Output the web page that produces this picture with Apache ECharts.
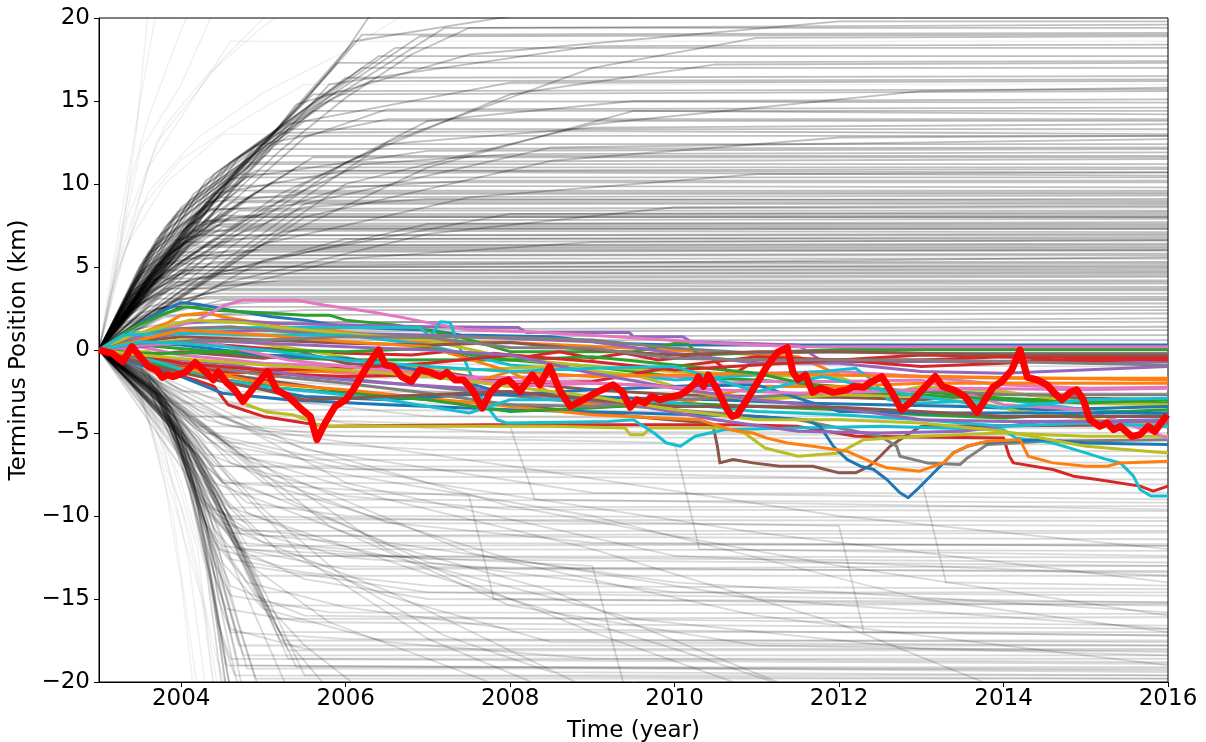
<!DOCTYPE html>
<html>
<head>
<meta charset="utf-8">
<script src="https://cdn.jsdelivr.net/npm/echarts@6/dist/echarts.min.js"></script>
<style>
  html, body { margin: 0; padding: 0; background: #fff; }
  #chart { width: 1206px; height: 742px; }
</style>
</head>
<body>
<div id="chart"></div>
<script>
// Terminus position ensemble, 2003-2016.
// Each run is a flat list of (year, km) pairs: [t0, v0, t1, v1, ...].

// Ensemble members that advance (upper fan)
const advanceRuns = [
  [2003,0, 2003.3,2.2, 2003.6,4.4, 2004.0,7.0, 2004.5,10.0, 2005.0,12.5, 2005.5,15.0, 2006.0,18.0, 2006.3,20.2],
  [2003,0, 2003.35,2.4, 2003.75,5.2, 2004.2,8.1, 2004.7,11.0, 2005.3,14.0, 2005.9,17.3, 2016,17.4],
  [2003,0, 2003.3,2.0, 2003.8,5.4, 2004.3,8.8, 2004.9,11.9, 2005.6,15.4, 2016,15.6],
  [2003,0, 2003.4,2.6, 2003.9,6.0, 2004.4,9.2, 2005.0,12.4, 2005.2,13.1, 2009.0,13.2, 2016,13.0],
  [2003,0, 2003.25,1.9, 2003.7,4.9, 2004.2,8.3, 2004.8,11.3, 2010,11.4, 2016,11.5],
  [2003,0, 2003.3,2.1, 2003.9,6.2, 2004.5,9.9, 2005.2,13.4, 2005.8,16.7, 2006.2,19.0, 2016,19.1],
  [2003,0, 2003.45,2.9, 2004.1,7.3, 2004.7,10.6, 2008,10.7, 2016,10.5],
  [2003,0, 2003.3,2.3, 2003.8,5.8, 2004.3,8.9, 2005.5,9.4, 2016,9.4],
  [2003,0, 2003.5,3.3, 2004.0,6.8, 2004.6,9.8, 2005.1,12.1, 2016,12.2],
  [2003,0, 2003.4,2.7, 2004.0,7.0, 2004.9,11.5, 2005.7,14.8, 2006.3,16.2, 2016,16.3],
  [2003,0, 2003.5,3.1, 2004.3,7.9, 2005.2,12.0, 2006.0,15.2, 2006.8,17.8, 2007.5,19.4, 2016,19.6],
  [2003,0, 2003.6,3.6, 2004.5,8.4, 2005.5,12.8, 2006.5,14.5, 2016,14.6],
  [2003,0, 2003.5,3.0, 2004.2,7.5, 2004.8,8.0, 2016,8.0],
  [2003,0, 2003.4,2.5, 2004.0,6.4, 2004.5,7.6, 2016,7.7],
  [2003,0, 2003.3,2.2, 2003.8,5.6, 2004.2,6.9, 2016,7.0],
  [2003,0, 2003.5,3.2, 2004.1,6.3, 2016,6.4],
  [2003,0, 2003.4,2.8, 2004.0,5.7, 2016,5.8],
  [2003,0, 2003.6,3.5, 2004.4,5.3, 2016,5.3],
  [2003,0, 2003.3,2.0, 2003.8,4.8, 2016,4.9],
  [2003,0, 2003.5,2.8, 2004.2,4.4, 2016,4.5],
  [2003,0, 2003.4,2.4, 2004.0,4.0, 2016,4.0],
  [2003,0, 2003.6,2.6, 2004.5,3.6, 2016,3.6],
  [2003,0, 2003.5,2.2, 2004.3,3.2, 2016,3.2],
  [2003,0, 2003.7,2.5, 2005.0,2.9, 2016,2.8],
  [2003,0, 2003.8,2.0, 2005.5,2.4, 2016,2.4],
  [2003,0, 2004.0,1.6, 2016,1.9],
  [2003,0, 2003.6,1.2, 2016,1.4],
  [2003,0, 2004.0,0.8, 2016,0.9],
  [2003,0, 2003.7,4.2, 2004.6,6.8, 2005.5,8.6, 2007,9.1, 2016,9.0],
  [2003,0, 2003.8,4.6, 2004.8,7.9, 2006,9.8, 2007.5,10.2, 2016,10.2],
  [2003,0, 2004.0,5.3, 2005.0,8.5, 2006.2,11.2, 2008,11.8, 2016,11.9],
  [2003,0, 2003.9,5.0, 2005.2,9.4, 2006.5,12.4, 2009,13.4, 2016,13.6],
  [2003,0, 2004.2,5.6, 2005.5,10.0, 2007,13.8, 2009.5,15.0, 2016,15.1],
  [2003,0, 2004.4,6.0, 2006,11.3, 2008,15.4, 2010.5,17.2, 2016,17.3],
  [2003,0, 2004.6,6.2, 2006.5,12.5, 2009,17.0, 2011,18.8, 2016,18.9],
  [2003,0, 2004.8,5.9, 2007,11.0, 2009.5,14.4, 2016,14.2],
  [2003,0, 2003.7,3.8, 2004.5,6.5, 2005.5,7.3, 2016,7.3],
  [2003,0, 2003.6,3.4, 2004.3,5.5, 2005,6.1, 2016,6.1],
  [2003,0, 2003.9,4.0, 2005,5.0, 2016,5.1],
  [2003,0, 2004.2,4.3, 2006,6.7, 2016,6.8],
  [2003,0, 2004.5,4.7, 2007,7.6, 2016,7.6],
  [2003,0, 2004.0,3.6, 2005.2,4.2, 2016,4.2],
  [2003,0, 2003.5,1.8, 2004.5,3.0, 2016,3.0],
  [2003,0, 2005.0,5.4, 2008.0,8.2, 2016,8.3],
  [2003,0, 2005.5,8.8, 2008.5,12.2, 2016,12.7],
  [2003,0, 2003.5,3.4, 2004.3,8.4, 2005.5,8.8, 2016,8.8],
  [2003,0, 2003.4,2.9, 2004.1,7.6, 2005,8.2, 2016,8.2],
  [2003,0, 2003.3,2.4, 2003.9,6.6, 2004.6,7.3, 2016,7.3],
  [2003,0, 2003.3,2.5, 2003.7,5.1, 2004.6,6.0, 2016,6.0],
  [2003,0, 2003.5,3.0, 2004.4,9.4, 2006,10.8, 2016,10.9],
  [2003,0, 2003.6,3.5, 2004.6,10.3, 2007,12.0, 2016,12.1],
  [2003,0, 2003.8,4.8, 2005.3,13.6, 2008,16.1, 2016,16.2],
  [2003,0, 2004.0,6.2, 2005.8,16.0, 2009,18.3, 2016,18.4],
  [2003,0, 2003.5,3.2, 2004.5,9.6, 2006.1,18.6, 2008.5,20.5],
  [2003,0, 2004.2,7.0, 2005.4,14.8, 2007.5,17.8, 2012,19.8, 2016,19.8],
  [2003,0, 2003.9,5.6, 2004.9,12.3, 2006.5,13.9, 2016,13.9],
  [2003,0, 2003.6,4.2, 2004.0,4.6, 2016,4.7],
  [2003,0, 2003.5,3.6, 2004.2,5.0, 2016,5.6],
  [2003,0, 2003.4,0.4, 2004.0,0.6, 2016,0.6],
  [2003,0, 2003.3,0.7, 2003.8,1.1, 2016,1.2],
  [2003,0, 2003.3,1.1, 2003.9,1.7, 2016,1.7],
  [2003,0, 2003.25,1.3, 2003.6,2.1, 2016,2.2],
  [2003,0, 2003.3,1.6, 2003.8,2.6, 2016,2.6],
  [2003,0, 2003.3,2.1, 2003.7,3.4, 2016,3.4],
  [2003,0, 2003.35,2.4, 2003.9,3.9, 2016,3.8],
  [2003,0, 2003.3,2.6, 2003.75,4.3, 2016,4.4],
  [2003,0, 2003.4,2.9, 2004.0,4.8, 2016,4.8],
  [2003,0, 2003.35,3.1, 2003.85,5.2, 2016,5.2],
  [2003,0, 2003.4,3.3, 2004.1,5.5, 2016,5.5],
  [2003,0, 2003.4,3.5, 2004.0,5.9, 2016,6.0],
  [2003,0, 2003.45,3.7, 2004.2,6.2, 2016,6.2],
  [2003,0, 2003.4,3.9, 2004.05,6.5, 2016,6.6],
  [2003,0, 2003.5,4.1, 2004.3,6.9, 2016,6.9],
  [2003,0, 2003.45,4.3, 2004.15,7.2, 2016,7.1],
  [2003,0, 2003.5,4.5, 2004.4,7.5, 2016,7.5],
  [2003,0, 2003.5,4.7, 2004.3,7.8, 2016,7.9],
  [2003,0, 2003.55,4.9, 2004.5,8.1, 2016,8.1],
  [2003,0, 2003.5,5.1, 2004.35,8.5, 2016,8.6],
  [2003,0, 2003.6,5.3, 2004.6,8.9, 2016,8.9],
  [2003,0, 2003.55,5.5, 2004.45,9.2, 2016,9.3],
  [2003,0, 2003.6,5.8, 2004.7,9.6, 2016,9.6],
  [2003,0, 2003.6,5.9, 2004.6,9.9, 2016,9.8],
  [2003,0, 2003.65,6.2, 2004.8,10.4, 2016,10.4],
  [2003,0, 2003.7,6.5, 2004.9,10.8, 2016,10.7],
  [2003,0, 2003.7,6.7, 2004.85,11.2, 2016,11.2],
  [2003,0, 2003.75,7.0, 2005.0,11.7, 2016,11.7],
  [2003,0, 2003.8,7.4, 2005.1,12.4, 2016,12.4],
  [2003,0, 2003.85,7.7, 2005.3,12.9, 2016,12.9],
  [2003,0, 2003.9,8.0, 2005.3,13.3, 2016,13.3],
  [2003,0, 2003.95,8.3, 2005.5,13.8, 2016,13.8],
  [2003,0, 2004.0,8.6, 2005.6,14.4, 2016,14.4],
  [2003,0, 2004.1,9.0, 2005.8,15.0, 2016,14.9],
  [2003,0, 2004.15,9.4, 2005.9,15.6, 2016,15.7],
  [2003,0, 2004.25,9.8, 2006.0,16.4, 2016,16.5],
  [2003,0, 2004.3,10.2, 2006.2,17.0, 2016,17.0],
  [2003,0, 2004.4,10.6, 2006.4,17.7, 2016,17.7],
  [2003,0, 2004.5,10.9, 2006.6,18.2, 2016,18.2],
  [2003,0, 2004.6,11.3, 2006.9,18.9, 2016,19.0],
  [2003,0, 2004.7,11.6, 2007.2,19.4, 2016,19.4],
  [2003,0, 2003.3,1.9, 2003.7,3.1, 2016,3.1],
  [2003,0, 2003.35,2.2, 2003.8,3.7, 2016,3.7],
  [2003,0, 2003.4,2.5, 2003.9,4.1, 2016,4.1],
  [2003,0, 2003.45,2.8, 2004.0,4.6, 2016,4.6],
  [2003,0, 2003.5,3.0, 2004.1,5.0, 2016,5.0],
  [2003,0, 2003.5,3.4, 2004.2,5.7, 2016,5.7],
  [2003,0, 2003.55,3.8, 2004.3,6.3, 2016,6.3],
  [2003,0, 2003.6,4.0, 2004.4,6.7, 2016,6.7],
  [2003,0, 2003.6,4.4, 2004.5,7.4, 2016,7.4],
  [2003,0, 2003.65,4.8, 2004.6,8.0, 2016,8.0],
  [2003,0, 2003.7,5.0, 2004.7,8.4, 2016,8.4],
  [2003,0, 2003.75,5.4, 2004.8,9.0, 2016,9.1],
  [2003,0, 2003.8,5.6, 2004.9,9.5, 2016,9.5],
  [2003,0, 2003.9,6.0, 2005.1,10.1, 2016,10.1],
  [2003,0, 2004.0,6.6, 2005.4,11.0, 2016,11.0],
  [2003,0, 2004.1,7.0, 2005.6,11.6, 2016,11.6],
  [2003,0, 2004.0,3.0, 2006.0,5.5, 2009.0,6.5, 2016,6.6],
  [2003,0, 2004.5,4.0, 2007.0,7.0, 2010.0,8.6, 2016,8.7],
  [2003,0, 2005.0,6.4, 2007.5,9.2, 2011.0,10.6, 2016,10.7],
  [2003,0, 2005.5,8.0, 2008.5,11.4, 2012.0,12.8, 2016,12.9],
  [2003,0, 2006.0,10.0, 2009.0,13.6, 2013.0,15.6, 2016,15.8]
];

// Ensemble members that retreat (lower fan)
const retreatRuns = [
  [2003,0, 2003.5,-1.2, 2003.8,-3.8, 2004.1,-8.5, 2004.3,-13.0, 2004.5,-20.5],
  [2003,0, 2003.5,-1.0, 2003.9,-4.5, 2004.2,-9.5, 2004.4,-14.5, 2004.6,-20.5],
  [2003,0, 2003.6,-1.6, 2004.0,-5.6, 2004.3,-10.5, 2004.55,-16.0, 2004.75,-20.5],
  [2003,0, 2003.6,-1.4, 2004.0,-5.0, 2004.35,-10.0, 2004.7,-16.5, 2004.95,-20.5],
  [2003,0, 2003.7,-2.0, 2004.1,-6.5, 2004.5,-11.5, 2004.9,-16.0, 2005.3,-20.5],
  [2003,0, 2003.7,-2.4, 2004.2,-7.6, 2004.6,-12.5, 2005.2,-17.0, 2005.8,-20.5],
  [2003,0, 2003.6,-2.0, 2004.0,-5.8, 2004.3,-9.2, 2004.8,-10.8, 2005.6,-11.2, 2016,-11.4],
  [2003,0, 2003.6,-1.8, 2004.0,-5.2, 2004.4,-9.8, 2005.0,-11.6, 2006,-12.0, 2016,-12.1],
  [2003,0, 2003.5,-1.5, 2004.0,-6.0, 2004.3,-10.5, 2004.6,-12.6, 2005.5,-13.4, 2007,-14.2, 2016,-14.4],
  [2003,0, 2003.6,-2.2, 2004.1,-7.2, 2004.4,-11.5, 2004.8,-14.0, 2006,-15.5, 2008,-16.8, 2016,-17.2],
  [2003,0, 2003.7,-2.6, 2004.2,-8.4, 2004.5,-12.8, 2005,-15.6, 2006.5,-17.6, 2009,-18.6, 2016,-18.8],
  [2003,0, 2003.7,-2.2, 2004.3,-8.0, 2004.7,-12.0, 2005.5,-13.8, 2007,-15.0, 2016,-15.2],
  [2003,0, 2003.8,-2.8, 2004.4,-8.6, 2004.9,-11.0, 2006,-12.5, 2008,-13.2, 2016,-13.3],
  [2003,0, 2003.8,-3.0, 2004.3,-7.0, 2004.8,-9.2, 2006,-10.0, 2016,-10.1],
  [2003,0, 2003.6,-1.8, 2004.0,-4.6, 2004.5,-7.8, 2005.2,-9.0, 2016,-9.2],
  [2003,0, 2003.5,-1.2, 2003.9,-3.6, 2004.4,-6.4, 2005,-7.6, 2016,-7.8],
  [2003,0, 2003.5,-1.0, 2004.0,-3.8, 2004.6,-5.8, 2005.5,-6.6, 2016,-6.8],
  [2003,0, 2003.4,-0.8, 2004.0,-3.0, 2004.8,-4.6, 2006,-5.2, 2016,-5.4],
  [2003,0, 2003.5,-1.1, 2004.2,-3.6, 2005,-4.9, 2016,-5.0],
  [2003,0, 2003.4,-0.6, 2004.0,-2.4, 2005,-3.6, 2016,-3.8],
  [2003,0, 2003.6,-1.6, 2004.3,-4.2, 2005.5,-5.6, 2007,-6.0, 2016,-6.1],
  [2003,0, 2003.7,-2.0, 2004.5,-5.4, 2006,-7.2, 2016,-7.4],
  [2003,0, 2003.8,-2.6, 2004.6,-6.8, 2006,-8.8, 2008,-9.6, 2016,-9.7],
  [2003,0, 2004.0,-3.4, 2005,-7.6, 2006.5,-10.4, 2009,-11.6, 2016,-11.8],
  [2003,0, 2004.2,-4.4, 2005.3,-9.0, 2007,-12.8, 2010,-14.6, 2016,-14.8],
  [2003,0, 2004.4,-5.0, 2005.8,-10.6, 2008,-15.4, 2011,-17.8, 2016,-18.2],
  [2003,0, 2004.6,-5.6, 2006.5,-12.0, 2009,-17.0, 2011,-20.5],
  [2003,0, 2003.8,-3.0, 2004.3,-6.2, 2005.5,-12.6, 2007,-17.4, 2008.5,-20.5],
  [2003,0, 2004.0,-4.4, 2005,-9.6, 2006,-13.8, 2007.2,-17.2, 2008.5,-19.4, 2016,-19.6],
  [2003,0, 2004.1,-5.4, 2004.8,-9.8, 2005.6,-11.4, 2007,-13.0, 2009.5,-16.2, 2013,-18.0, 2016,-18.4],
  [2003,0, 2003.9,-4.0, 2004.5,-8.8, 2005.2,-12.2, 2006.5,-14.8, 2008.5,-17.6, 2016,-17.8],
  [2003,0, 2003.8,-3.4, 2004.4,-9.6, 2004.9,-13.2, 2005.8,-16.4, 2007,-18.6, 2008,-20.5],
  [2003,0, 2003.9,-3.8, 2004.5,-10.2, 2004.9,-14.6, 2005.5,-17.8, 2006.2,-20.5],
  [2003,0, 2004.5,-3.2, 2006,-4.4, 2008,-5.0, 2016,-5.2],
  [2003,0, 2004.8,-2.8, 2007,-4.0, 2016,-4.3],
  [2003,0, 2005,-1.8, 2008,-2.8, 2016,-3.0],
  [2003,0, 2004.2,-1.6, 2016,-2.0],
  [2003,0, 2003.7,-0.8, 2016,-1.0],
  [2003,0, 2004.5,-0.5, 2016,-0.6],
  [2003,0, 2005.5,-6.0, 2009,-8.6, 2016,-9.0],
  [2003,0, 2006,-8.0, 2010,-12.4, 2016,-13.6],
  [2003,0, 2005,-5.2, 2008,-9.4, 2012,-13.0, 2016,-16.0],
  [2003,0, 2004.8,-6.6, 2007.5,-12.2, 2011,-16.0, 2016,-19.0],
  [2003,0, 2004.2,-5.2, 2004.6,-7.8, 2006.5,-11.6, 2010,-14.0, 2016,-15.8],
  [2003,0, 2003.8,-3.2, 2004.2,-8.0, 2004.5,-10.4, 2005,-11.2, 2016,-11.0],
  [2003,0, 2003.7,-2.6, 2004.1,-7.0, 2004.3,-9.4, 2004.8,-10.4, 2016,-10.6],
  [2003,0, 2003.7,-2.8, 2004.2,-8.8, 2004.7,-12.0, 2006,-13.2, 2016,-13.0],
  [2003,0, 2003.6,-2.4, 2004.1,-7.6, 2004.4,-12.0, 2004.6,-14.2, 2005.5,-16.0, 2016,-16.6],
  [2003,0, 2003.6,-2.2, 2004.0,-6.8, 2004.35,-12.6, 2004.6,-16.8, 2005.5,-18.0, 2016,-18.0],
  [2003,0, 2003.6,-2.0, 2004.0,-5.5, 2004.3,-10.5, 2004.5,-15.0, 2004.7,-19.0, 2016,-19.3],
  [2003,0, 2003.5,-0.8, 2004.0,-2.5, 2016,-2.6],
  [2003,0, 2003.5,-0.9, 2003.9,-3.2, 2016,-3.3],
  [2003,0, 2003.6,-1.3, 2004.1,-4.0, 2016,-4.0],
  [2003,0, 2003.6,-1.5, 2004.2,-4.6, 2016,-4.7],
  [2003,0, 2003.65,-1.8, 2004.3,-5.6, 2016,-5.7],
  [2003,0, 2003.7,-2.0, 2004.3,-6.3, 2016,-6.4],
  [2003,0, 2003.7,-2.3, 2004.4,-7.0, 2016,-7.1],
  [2003,0, 2003.75,-2.6, 2004.5,-8.0, 2016,-8.1],
  [2003,0, 2003.8,-2.9, 2004.5,-8.7, 2016,-8.6],
  [2003,0, 2003.8,-3.1, 2004.6,-9.5, 2016,-9.4],
  [2003,0, 2003.85,-3.4, 2004.6,-10.2, 2016,-10.3],
  [2003,0, 2003.85,-3.6, 2004.7,-10.9, 2016,-10.9],
  [2003,0, 2003.9,-3.9, 2004.8,-11.8, 2016,-11.7],
  [2003,0, 2003.9,-4.2, 2004.8,-12.4, 2016,-12.5],
  [2003,0, 2003.95,-4.5, 2004.9,-13.6, 2016,-13.6],
  [2003,0, 2004.0,-4.8, 2005.0,-14.6, 2016,-14.6],
  [2003,0, 2004.0,-5.1, 2005.0,-15.4, 2016,-15.3],
  [2003,0, 2004.05,-5.4, 2005.1,-16.2, 2016,-16.1],
  [2003,0, 2004.1,-5.7, 2005.2,-17.0, 2016,-17.0],
  [2003,0, 2004.1,-5.9, 2005.2,-17.5, 2016,-17.5],
  [2003,0, 2004.15,-6.1, 2005.3,-18.1, 2016,-18.1],
  [2003,0, 2004.2,-6.3, 2005.3,-18.6, 2016,-18.6],
  [2003,0, 2004.2,-6.5, 2005.4,-19.1, 2016,-19.1],
  [2003,0, 2004.25,-6.6, 2005.5,-19.6, 2016,-19.6],
  [2003,0, 2003.9,-4.4, 2004.4,-12.0, 2004.7,-17.8, 2016,-17.8],
  [2003,0, 2003.9,-4.6, 2004.4,-12.5, 2004.75,-18.4, 2016,-18.4],
  [2003,0, 2003.95,-4.8, 2004.45,-13.0, 2004.8,-19.2, 2016,-19.2],
  [2003,0, 2004.0,-5.0, 2004.5,-13.4, 2004.9,-19.8, 2016,-19.8],
  [2003,0, 2004.5,-6.0, 2006.5,-9.0, 2009,-12.0, 2012,-16.5, 2014,-20.5],
  [2003,0, 2004.4,-8.0, 2006,-11.0, 2008.5,-14.5, 2011.5,-20.5],
  [2003,0, 2004.6,-9.5, 2007,-13.5, 2010,-18.0, 2011.5,-20.5],
  [2003,0, 2004.7,-11.0, 2006.5,-14.5, 2009,-20.5],
  [2003,0, 2004.3,-5.0, 2007,-8.0, 2011,-11.0, 2016,-14.0],
  [2003,0, 2004.5,-4.5, 2008,-7.0, 2012,-10.0, 2016,-12.0],
  [2003,0, 2004.8,-6.5, 2009,-10.0, 2013,-15.0, 2016,-17.0],
  [2003,0, 2005.0,-8.0, 2008,-12.6, 2011,-15.0, 2016,-16.8],
  [2003,0, 2004.2,-4.0, 2008.0,-4.6, 2008.3,-9.0, 2016,-9.6],
  [2003,0, 2004.3,-5.0, 2010.0,-5.6, 2010.3,-12.0, 2016,-12.4],
  [2003,0, 2004.5,-8.0, 2007.5,-8.8, 2007.8,-15.0, 2016,-15.4],
  [2003,0, 2004.6,-10.0, 2012.0,-10.6, 2012.3,-17.0, 2016,-17.2],
  [2003,0, 2004.4,-7.0, 2013.0,-7.8, 2013.3,-14.0, 2016,-14.2],
  [2003,0, 2004.7,-12.0, 2009.0,-13.0, 2009.4,-20.5],
  [2003,0, 2003.7,-2.4, 2004.1,-7.0, 2004.3,-12.0, 2004.45,-16.5, 2004.6,-18.6, 2016,-18.9],
  [2003,0, 2003.75,-2.8, 2004.15,-8.0, 2004.32,-13.0, 2004.5,-17.5, 2004.65,-19.6, 2016,-19.8],
  [2003,0, 2003.7,-2.6, 2004.1,-7.8, 2004.3,-12.5, 2004.45,-17.0, 2004.55,-20.5],
  [2003,0, 2003.8,-3.2, 2004.2,-9.0, 2004.38,-14.0, 2004.5,-18.0, 2004.6,-20.5],
  [2003,0, 2003.8,-3.0, 2004.2,-9.6, 2004.4,-13.5, 2004.55,-15.6, 2005.5,-16.4, 2016,-16.8],
  [2003,0, 2003.75,-2.9, 2004.2,-9.2, 2004.4,-12.8, 2004.6,-14.8, 2005.8,-15.8, 2016,-15.9],
  [2003,0, 2003.8,-3.3, 2004.25,-10.0, 2004.45,-12.0, 2005.2,-13.0, 2016,-13.4],
  [2003,0, 2003.7,-2.2, 2004.15,-8.0, 2004.5,-11.8, 2005.5,-12.4, 2016,-12.8],
  [2003,0, 2003.9,-3.8, 2004.3,-10.5, 2004.45,-15.0, 2004.6,-17.0, 2006,-17.4, 2016,-17.6],
  [2003,0, 2003.85,-3.6, 2004.3,-11.0, 2004.5,-16.0, 2004.7,-20.5],
  [2003,0, 2003.9,-4.2, 2004.3,-9.6, 2004.6,-11.0, 2006,-11.6, 2016,-11.8],
  [2003,0, 2003.95,-4.6, 2004.35,-10.0, 2004.7,-11.6, 2007,-12.6, 2016,-13.0],
  [2003,0, 2004.0,-5.0, 2004.4,-10.8, 2004.8,-13.0, 2007,-14.6, 2016,-15.2],
  [2003,0, 2003.6,-1.6, 2004.0,-6.4, 2004.35,-13.5, 2004.5,-18.8, 2004.55,-20.5],
  [2003,0, 2003.65,-2.0, 2004.05,-7.0, 2004.4,-14.8, 2004.55,-19.0, 2016,-19.4]
];

// Outlying members that leave the plotted range quickly
const outlierRuns = [
  [2003,0, 2003.1,3.0, 2003.3,9.0, 2003.5,15.0, 2003.7,20.5],
  [2003,0, 2003.15,4.0, 2003.4,10.5, 2003.6,14.0, 2003.9,18.0, 2004.1,20.5],
  [2003,0, 2003.2,5.0, 2003.5,12.0, 2004.0,16.0, 2004.4,20.5],
  [2003,0, 2003.1,2.5, 2003.35,8.0, 2003.8,13.5, 2004.3,16.5, 2005.0,19.5, 2005.3,20.5],
  [2003,0, 2003.2,4.5, 2003.6,9.5, 2004.2,12.8, 2005,15.5, 2006,18.0, 2006.8,20.5],
  [2003,0, 2003.25,5.5, 2003.7,12.5, 2004.5,17.5, 2005.1,20.5],
  [2003,0, 2003.15,3.5, 2003.5,8.5, 2004.0,11.5, 2004.8,14.0, 2005.5,16.0, 2016,16.0],
  [2003,0, 2003.3,6.0, 2003.8,10.0, 2004.5,13.0, 2016,13.2],
  [2003,0, 2003.1,2.0, 2003.25,6.0, 2003.45,13.0, 2003.6,20.5],
  [2003,0, 2003.2,3.8, 2003.6,11.0, 2004.6,18.6, 2016,18.6],
  [2003,0, 2003.3,-1.0, 2003.6,-4.0, 2003.9,-10.0, 2004.2,-20.5],
  [2003,0, 2003.4,-1.5, 2003.8,-6.0, 2004.1,-13.0, 2004.3,-20.5],
  [2003,0, 2003.2,-0.6, 2003.5,-2.5, 2003.8,-8.0, 2004.0,-14.0, 2004.15,-20.5],
  [2003,0, 2003.5,-2.0, 2003.9,-7.0, 2004.2,-12.0, 2004.4,-20.5],
  [2003,0, 2003.4,-1.8, 2003.7,-5.5, 2004.0,-9.5, 2004.3,-16.0, 2004.45,-20.5],
  [2003,0, 2003.3,-1.2, 2003.7,-4.8, 2004.1,-11.0, 2004.4,-18.0, 2004.55,-20.5],
  [2003,0, 2003.6,-3.0, 2004.0,-8.0, 2004.35,-14.0, 2004.6,-20.5],
  [2003,0, 2003.5,-2.6, 2003.9,-9.0, 2004.25,-15.0, 2004.4,-20.5]
];

// Selected members closest to the observed record
const selectedRuns = [
  [2003,0, 2003.3,1.0, 2003.6,1.9, 2003.8,2.4, 2004.0,2.85, 2004.2,2.75, 2004.6,2.4, 2004.8,2.25, 2005.1,2.0, 2005.5,1.8, 2006.0,1.4, 2006.5,1.3, 2007.0,1.2, 2007.4,0.9, 2008.5,0.8, 2009.2,0.4, 2010.0,0.3, 2016,0.3],
  [2003,0, 2003.5,1.0, 2003.84,1.65, 2004.0,2.1, 2004.3,2.25, 2004.5,2.0, 2004.86,1.7, 2005.05,1.65, 2005.2,1.4, 2005.8,1.2, 2006.55,0.75, 2006.75,0.5, 2008.0,0.45, 2009.5,0.1, 2011.5,-0.4, 2012.0,-1.5, 2016,-1.8],
  [2003,0, 2003.4,1.3, 2003.8,2.2, 2004.05,2.6, 2004.4,2.4, 2005.0,2.25, 2005.5,2.1, 2005.8,2.1, 2006.0,1.8, 2006.6,1.5, 2007.3,0.9, 2008.0,-0.1, 2009.5,-0.1, 2010.0,0.4, 2010.15,0.4, 2010.3,-0.3, 2012,0.03, 2016,0.03],
  [2003,0, 2003.6,-1.0, 2004.17,-1.8, 2004.4,-2.2, 2004.57,-3.3, 2004.75,-3.6, 2005.0,-4.0, 2005.5,-4.4, 2005.8,-4.6, 2007.7,-4.5, 2010.8,-4.5, 2011.5,-4.6, 2012.2,-5.2, 2014.0,-5.3, 2014.07,-6.4, 2014.12,-6.8, 2014.6,-7.2, 2014.85,-7.6, 2015.14,-7.8, 2015.66,-8.2, 2015.82,-8.5, 2016,-8.2],
  [2003,0, 2003.5,0.9, 2004.0,1.6, 2004.5,1.8, 2005.2,1.6, 2006.0,1.5, 2007.0,1.4, 2008.1,1.35, 2008.2,1.05, 2009.45,1.05, 2009.5,0.8, 2010.1,0.8, 2010.2,0.5, 2011.5,0.3, 2011.8,-0.7, 2016,-0.7],
  [2003,0, 2003.5,-0.8, 2004.2,-1.2, 2005.0,-1.8, 2006.0,-2.5, 2007.0,-3.0, 2008.0,-3.3, 2009.0,-3.8, 2010.4,-4.4, 2010.47,-4.6, 2010.52,-5.8, 2010.55,-6.8, 2010.71,-6.6, 2010.95,-6.8, 2011.28,-7.0, 2011.68,-7.0, 2012.0,-7.4, 2012.2,-7.4, 2012.37,-7.0, 2012.5,-6.4, 2012.62,-5.8, 2012.74,-5.4, 2012.86,-5.0, 2013.0,-4.6, 2016,-4.5],
  [2003,0, 2003.5,0.8, 2004.2,1.8, 2004.53,2.7, 2004.75,3.0, 2005.4,3.0, 2005.75,2.7, 2006.3,2.3, 2006.7,1.95, 2007.0,1.65, 2007.5,1.2, 2008.2,1.1, 2009.3,0.8, 2010.5,0.4, 2011.5,0.2, 2016,0.2],
  [2003,0, 2003.6,-0.5, 2004.5,-1.0, 2005.5,-1.5, 2007,-2.2, 2008.5,-3.0, 2010,-3.6, 2011.5,-4.2, 2012.5,-5.2, 2012.7,-5.8, 2012.74,-6.4, 2013.07,-6.8, 2013.47,-6.9, 2013.56,-6.5, 2013.8,-5.7, 2014.5,-5.5, 2016,-5.4],
  [2003,0, 2003.6,-0.1, 2004.0,-0.9, 2004.53,-1.95, 2004.8,-3.3, 2005.05,-3.75, 2005.35,-3.9, 2005.54,-4.2, 2005.7,-4.6, 2008.5,-4.6, 2009.4,-4.7, 2009.46,-5.1, 2009.62,-5.1, 2009.7,-4.7, 2010.6,-4.7, 2010.85,-5.0, 2011.1,-5.9, 2011.5,-6.4, 2012.0,-6.2, 2012.3,-5.4, 2013,-5.2, 2014,-5.0, 2015,-5.2, 2016,-5.2],
  [2003,0, 2003.4,1.0, 2004.0,1.3, 2005.0,1.35, 2006.9,1.35, 2007.03,0.8, 2007.15,1.7, 2007.27,1.65, 2007.35,0.6, 2007.48,-1.0, 2007.6,-2.4, 2007.72,-3.4, 2007.84,-4.2, 2007.96,-4.4, 2009.2,-4.3, 2009.5,-4.2, 2009.75,-5.0, 2009.9,-5.6, 2010.07,-5.8, 2010.25,-5.2, 2010.6,-4.8, 2011.5,-4.7, 2012.5,-4.6, 2014.0,-4.8, 2014.15,-5.3, 2014.6,-5.6, 2015.0,-6.2, 2015.26,-6.6, 2015.42,-6.8, 2015.58,-7.6, 2015.66,-8.4, 2015.79,-8.8, 2016,-8.8],
  [2003,0, 2003.5,-0.9, 2004.0,-1.6, 2004.5,-2.6, 2005.3,-3.0, 2006.5,-3.3, 2008,-3.6, 2009.5,-3.8, 2011.0,-4.0, 2011.6,-4.2, 2011.77,-4.6, 2011.93,-5.8, 2012.1,-6.6, 2012.26,-7.0, 2012.42,-7.2, 2012.58,-7.8, 2012.74,-8.6, 2012.84,-8.9, 2012.95,-8.4, 2013.07,-7.8, 2013.23,-7.0, 2013.39,-6.2, 2013.56,-5.8, 2013.72,-5.6, 2014.0,-5.5, 2014.5,-5.4, 2015.0,-5.6, 2016,-5.7],
  [2003,0, 2003.5,-0.4, 2004.2,-1.2, 2005,-2.0, 2006,-2.4, 2007,-2.9, 2008,-3.4, 2009,-3.9, 2010.3,-4.2, 2010.68,-4.8, 2010.95,-5.0, 2011.12,-5.3, 2011.37,-5.6, 2011.68,-5.8, 2012.1,-6.1, 2012.42,-6.8, 2012.58,-7.1, 2012.98,-7.3, 2013.27,-6.8, 2013.39,-6.2, 2013.56,-5.8, 2013.8,-5.5, 2014.2,-5.4, 2014.3,-6.4, 2014.6,-6.8, 2015.0,-7.0, 2015.26,-7.0, 2015.42,-6.8, 2016,-6.7],
  [2003,0, 2003.5,0.3, 2004.2,0.0, 2005.0,-0.4, 2006.0,-0.6, 2007,-0.6, 2008,-0.6, 2009,-1.0, 2010,-1.6, 2011,-1.8, 2012,-2.2, 2013,-2.5, 2014,-2.9, 2015,-3.1, 2016,-3.2],
  [2003,0, 2003.5,0.4, 2004.0,0.5, 2004.5,0.3, 2005.0,0.1, 2006.0,-0.2, 2006.8,-0.3, 2007.2,-0.1, 2007.5,-0.5, 2007.8,-0.2, 2008.2,-0.4, 2008.6,-0.1, 2009.0,-0.5, 2009.4,-0.2, 2009.8,-0.6, 2010.4,-0.3, 2010.7,-1.5, 2011.0,-0.6, 2012.0,-0.6, 2013,-0.3, 2014,-0.4, 2016,-0.4],
  [2003,0, 2003.4,0.6, 2004,1.0, 2005,1.2, 2006,1.0, 2007,0.9, 2008,0.7, 2009,0.5, 2010,-0.2, 2011,-0.8, 2012,-0.8, 2013,-1.3, 2014,-1.4, 2016,-1.0],
  [2003,0, 2003.5,-0.3, 2004.0,-0.1, 2005,-0.5, 2005.5,-0.2, 2006,-0.8, 2007,-1.2, 2008,-1.95, 2009,-2.4, 2010,-2.7, 2011,-2.8, 2012,-2.85, 2013,-3.0, 2014,-2.6, 2015,-2.9, 2016,-3.0],
  [2003,0, 2003.5,-0.2, 2004.0,-0.6, 2004.6,-1.2, 2005.2,-1.1, 2006,-1.4, 2007,-1.6, 2008,-1.65, 2009,-1.5, 2010,-1.6, 2011,-1.4, 2012,-1.3, 2013,-1.6, 2014,-2.1, 2015,-2.3, 2016,-2.25],
  [2003,0, 2003.4,0.8, 2004,1.3, 2004.6,1.4, 2005.5,1.0, 2006,0.9, 2007,0.8, 2008,0.75, 2009,0.6, 2010,0.1, 2011,-0.2, 2012,-0.1, 2013,-0.2, 2016,-0.2],
  [2003,0, 2003.4,0.9, 2004.1,1.8, 2004.75,1.65, 2005.2,1.35, 2006,1.0, 2007,0.6, 2008,-0.5, 2009,-1.0, 2010,-1.3, 2011,-1.5, 2012,-1.65, 2012.6,-2.6, 2013,-2.2, 2014,-2.5, 2015,-3.2, 2016,-3.3],
  [2003,0, 2003.3,0.9, 2004,1.0, 2005,0.9, 2006,0.9, 2007,0.3, 2008,-0.9, 2009,-1.3, 2010,-1.8, 2011,-1.5, 2011.8,-1.3, 2012.2,-1.1, 2012.4,-1.8, 2012.6,-3.0, 2013,-3.2, 2014,-3.0, 2015,-3.6, 2016,-3.9],
  [2003,0, 2003.5,-0.5, 2004,-1.2, 2004.6,-2.0, 2005.5,-2.8, 2006.5,-3.0, 2007.5,-2.7, 2008.5,-2.7, 2009.5,-2.9, 2010.5,-3.0, 2011.5,-3.2, 2012.5,-3.3, 2013.5,-3.4, 2014.5,-3.6, 2016,-3.4],
  [2003,0, 2003.6,-0.8, 2004.3,-1.5, 2005,-1.3, 2006,-1.3, 2007,-1.3, 2007.5,-2.0, 2008,-1.3, 2008.5,-2.6, 2008.8,-3.2, 2009.3,-3.4, 2010,-3.3, 2011,-2.2, 2012,-2.2, 2013,-2.0, 2014,-2.0, 2016,-2.0],
  [2003,0, 2003.5,-0.6, 2004.3,-1.6, 2005.2,-2.3, 2006,-2.6, 2007,-3.0, 2008,-3.7, 2009,-3.5, 2010,-3.2, 2011,-3.4, 2012,-3.6, 2013,-3.9, 2014,-4.1, 2015,-3.8, 2016,-3.6],
  [2003,0, 2003.5,-0.5, 2004,-0.9, 2004.5,-1.3, 2005,-1.4, 2006,-1.6, 2007,-1.5, 2008,-2.0, 2009,-1.9, 2010,-1.0, 2011,-0.4, 2012,-0.6, 2013,-1.0, 2014,-0.8, 2015,-0.5, 2016,-0.6],
  [2003,0, 2003.6,-0.4, 2004.5,-0.8, 2005.5,-1.6, 2006.5,-2.0, 2007.5,-2.3, 2008.5,-2.8, 2009.5,-3.3, 2010.5,-4.2, 2011.5,-4.9, 2012.5,-5.0, 2013.5,-4.9, 2014.5,-4.3, 2016,-4.2],
  [2003,0, 2003.4,0.5, 2004,0.8, 2005,0.6, 2006,0.4, 2007,0.3, 2008,0.45, 2009,0.0, 2010,-0.3, 2011,-0.1, 2012,-0.1, 2014,-0.3, 2016,-0.3],
  [2003,0, 2003.5,0.2, 2004,-0.3, 2005,-0.8, 2006,-1.0, 2007,-1.2, 2008,-2.2, 2009,-2.0, 2010,-2.2, 2011,-1.9, 2012,-1.9, 2013,-1.8, 2014,-3.3, 2015,-3.6, 2016,-5.3],
  [2003,0, 2003.5,-0.6, 2004.3,-1.0, 2005,-1.5, 2006,-2.0, 2007,-2.6, 2008,-3.3, 2009,-3.4, 2010,-3.0, 2011,-2.8, 2012,-2.6, 2013,-2.4, 2014,-2.7, 2016,-2.7],
  [2003,0, 2003.4,0.3, 2004,0.6, 2004.8,0.5, 2005.5,0.0, 2006.5,-0.9, 2007.5,-1.2, 2008.5,-1.0, 2009.5,-1.5, 2010.3,-2.6, 2011,-3.0, 2012,-2.7, 2013,-2.8, 2013.8,-3.3, 2014.2,-3.7, 2015.5,-4.4, 2016,-4.6],
  [2003,0, 2003.4,-0.2, 2004.2,-1.5, 2005,-2.2, 2005.8,-2.6, 2006.5,-3.0, 2007.5,-3.8, 2008,-3.0, 2009,-3.0, 2010,-3.2, 2011,-3.7, 2012,-3.9, 2013,-4.2, 2014,-4.6, 2015,-4.4, 2016,-4.6],
  [2003,0, 2003.4,0.5, 2004,0.3, 2005,-0.3, 2006,-0.5, 2007,-1.3, 2008,-2.7, 2009,-2.4, 2010,-2.2, 2011,-2.1, 2012,-3.7, 2013,-3.8, 2014,-3.8, 2016,-3.8],
  [2003,0, 2003.5,0.6, 2004,1.2, 2005,0.9, 2006,0.5, 2007,0.2, 2008,-1.3, 2009,-1.6, 2010,-1.5, 2011,-1.4, 2012,-1.5, 2013,-1.6, 2014,-1.7, 2016,-1.7],
  [2003,0, 2003.5,-0.2, 2004,-0.2, 2005,0.0, 2006,-0.1, 2007,0.1, 2008,-0.6, 2009,-0.4, 2010,-0.9, 2011,-1.4, 2012,-2.5, 2013,-2.7, 2014,-3.0, 2015,-3.2, 2016,-3.0],
  [2003,0, 2003.5,-0.3, 2004,-0.8, 2005,-1.2, 2006,-1.1, 2007,-0.8, 2008,-0.3, 2009,-0.7, 2010,-1.2, 2011,-0.9, 2012,-0.6, 2013,-0.6, 2014,-0.4, 2015,-0.7, 2016,-0.5],
  [2003,0, 2003.5,0.2, 2004.2,0.6, 2005,0.4, 2006,0.2, 2007,0.0, 2008,-0.3, 2009,-1.4, 2010,-2.3, 2011,-3.0, 2012,-3.5, 2013,-4.2, 2014,-4.3, 2016,-4.3],
  [2003,0, 2003.6,-0.9, 2004.4,-1.8, 2005,-2.4, 2005.5,-3.0, 2006,-2.9, 2007,-2.7, 2008,-2.5, 2009,-3.0, 2010,-3.4, 2011,-3.4, 2012,-3.45, 2013,-3.7, 2014,-4.0, 2016,-4.0],
  [2003,0, 2003.5,0.3, 2004.3,0.5, 2005.3,-0.6, 2006,-1.0, 2007,-1.5, 2007.5,-1.9, 2008.5,-1.9, 2009.5,-2.1, 2010.5,-2.4, 2011.5,-2.6, 2012.5,-2.5, 2013.5,-2.3, 2015,-2.4, 2016,-2.3],
  [2003,0, 2003.5,0.4, 2004,0.5, 2005,0.6, 2006,0.8, 2007,0.75, 2008,0.15, 2009,0.1, 2010,-0.5, 2011,-0.6, 2012,-0.6, 2013,-0.6, 2016,-0.9],
  [2003,0, 2003.5,-0.3, 2004.2,-0.6, 2005,-0.9, 2006,-1.2, 2007,-1.6, 2008,-2.2, 2009,-2.8, 2010,-3.6, 2011,-4.2, 2012,-4.2, 2013,-4.4, 2014,-4.9, 2015,-5.8, 2016,-6.2],
  [2003,0, 2003.5,0.5, 2004,0.4, 2005,0.0, 2006,-0.6, 2007,-1.0, 2008,-1.3, 2009,-1.1, 2010,-1.0, 2011,-2.5, 2011.8,-1.6, 2012.5,-2.4, 2013,-2.8, 2014,-3.5, 2015,-3.0, 2016,-2.9]
];

// Observed terminus position
const obsYear = [2003.0, 2003.16, 2003.29, 2003.4, 2003.5, 2003.6, 2003.7, 2003.77, 2003.83, 2003.9,
  2004.05, 2004.17, 2004.29, 2004.39, 2004.45, 2004.55, 2004.65, 2004.75, 2004.86, 2005.05,
  2005.16, 2005.3, 2005.47, 2005.57, 2005.65, 2005.75, 2005.87, 2006.0, 2006.09, 2006.26,
  2006.4, 2006.48, 2006.58, 2006.68, 2006.8, 2006.9, 2007.03, 2007.15, 2007.23, 2007.33,
  2007.43, 2007.54, 2007.66, 2007.76, 2007.88, 2007.98, 2008.12, 2008.27, 2008.36, 2008.48,
  2008.6, 2008.73, 2008.85, 2009.05, 2009.25, 2009.36, 2009.46, 2009.54, 2009.64, 2009.72,
  2009.82, 2009.92, 2010.07, 2010.16, 2010.25, 2010.29, 2010.35, 2010.41, 2010.52, 2010.64,
  2010.7, 2010.76, 2010.88, 2011.0, 2011.12, 2011.25, 2011.37, 2011.44, 2011.5, 2011.59,
  2011.68, 2011.77, 2011.93, 2012.1, 2012.17, 2012.3, 2012.38, 2012.52, 2012.64, 2012.76,
  2012.9, 2013.05, 2013.17, 2013.26, 2013.39, 2013.53, 2013.68, 2013.75, 2013.87, 2013.98,
  2014.1, 2014.2, 2014.29, 2014.41, 2014.53, 2014.61, 2014.71, 2014.81, 2014.89, 2014.97,
  2015.05, 2015.17, 2015.26, 2015.34, 2015.42, 2015.56, 2015.66, 2015.76, 2015.84, 2015.99];
const obsKm = [0.0, -0.2, -0.7, 0.2, -0.4, -1.0, -1.2, -1.65, -1.5, -1.6,
  -1.35, -0.75, -1.3, -1.8, -1.3, -1.95, -2.4, -3.1, -2.4, -1.3,
  -2.4, -2.8, -3.6, -4.0, -5.4, -4.4, -3.4, -3.0, -2.4, -1.0,
  0.0, -0.9, -1.0, -1.6, -1.9, -1.2, -1.35, -1.6, -1.35, -1.8,
  -1.8, -2.4, -3.5, -2.55, -1.95, -1.8, -2.5, -1.5, -2.1, -1.0,
  -2.4, -3.4, -3.1, -2.55, -2.1, -2.5, -3.45, -3.0, -3.2, -2.8,
  -3.0, -2.85, -2.7, -2.4, -2.0, -1.6, -2.2, -1.5, -2.4, -3.6,
  -4.0, -3.9, -3.0, -2.0, -1.0, -0.15, 0.15, -1.35, -1.8, -1.5,
  -2.55, -2.3, -2.55, -2.4, -2.2, -2.25, -1.95, -1.6, -2.55, -3.6,
  -3.0, -2.2, -1.6, -2.2, -2.4, -2.8, -3.75, -3.2, -2.25, -1.9,
  -1.2, 0.0, -1.65, -1.8, -2.1, -2.55, -3.0, -2.55, -2.4, -3.0,
  -4.2, -4.6, -4.4, -4.8, -4.6, -5.2, -5.1, -4.6, -4.9, -3.9];

// Axis ticks
const yearTicks = [2004, 2006, 2008, 2010, 2012, 2014, 2016];

// ---- styling ----
const FONT = 'DejaVu Sans';
const TAB10 = ['#1f77b4', '#ff7f0e', '#2ca02c', '#d62728', '#9467bd',
               '#8c564b', '#e377c2', '#7f7f7f', '#bcbd22', '#17becf'];

function toPairs(flat) {
  const out = [];
  for (let i = 0; i < flat.length; i += 2) out.push([flat[i], flat[i + 1]]);
  return out;
}

function runSeries(flat, color, width, opacity, z) {
  return {
    type: 'line',
    data: toPairs(flat),
    showSymbol: false,
    symbol: 'none',
    silent: true,
    clip: true,
    z: z,
    lineStyle: { color: color, width: width, opacity: opacity, join: 'round' }
  };
}

const series = [];
outlierRuns.forEach(r => series.push(runSeries(r, '#000', 1.5, 0.06, 1)));
retreatRuns.forEach(r => series.push(runSeries(r, '#000', 1.8, 0.15, 1)));
advanceRuns.forEach(r => series.push(runSeries(r, '#000', 1.8, 0.25, 1)));
selectedRuns.forEach((r, i) => series.push(runSeries(r, TAB10[i % TAB10.length], 3, 1, 2)));
series.push({
  type: 'line',
  data: obsYear.map((t, i) => [t, obsKm[i]]),
  showSymbol: false,
  symbol: 'none',
  silent: true,
  z: 3,
  lineStyle: { color: '#ff0000', width: 7, join: 'round' }
});

const chart = echarts.init(document.getElementById('chart'), null, { renderer: 'canvas' });
chart.setOption({
  animation: false,
  backgroundColor: '#fff',
  grid: {
    left: 99, right: 38, top: 18, bottom: 60,
    outerBoundsMode: 'none', containLabel: false,
    show: true, borderColor: '#000', borderWidth: 1, backgroundColor: 'transparent'
  },
  xAxis: {
    type: 'value', min: 2003, max: 2016,
    name: 'Time (year)', nameLocation: 'middle', nameGap: 38,
    nameTextStyle: { fontFamily: FONT, fontSize: 23, color: '#000' },
    axisLine: { show: true, onZero: false, lineStyle: { color: '#000', width: 1 } },
    axisTick: { show: true, length: 5, customValues: yearTicks, lineStyle: { color: '#000', width: 1 } },
    axisLabel: { customValues: yearTicks, fontFamily: FONT, fontSize: 23, color: '#000', margin: 6,
                 formatter: v => String(v) },
    splitLine: { show: false }
  },
  yAxis: {
    type: 'value', min: -20, max: 20, interval: 5,
    name: 'Terminus Position (km)', nameLocation: 'middle', nameGap: 56, nameRotate: 90,
    nameTextStyle: { fontFamily: FONT, fontSize: 23, color: '#000' },
    axisLine: { show: true, onZero: false, lineStyle: { color: '#000', width: 1 } },
    axisTick: { show: true, length: 5, lineStyle: { color: '#000', width: 1 } },
    axisLabel: {
      fontFamily: FONT, fontSize: 23, color: '#000', margin: 9,
      formatter: v => String(v).replace('-', '\u2212')
    },
    splitLine: { show: false }
  },
  series: series
});
</script>
</body>
</html>
